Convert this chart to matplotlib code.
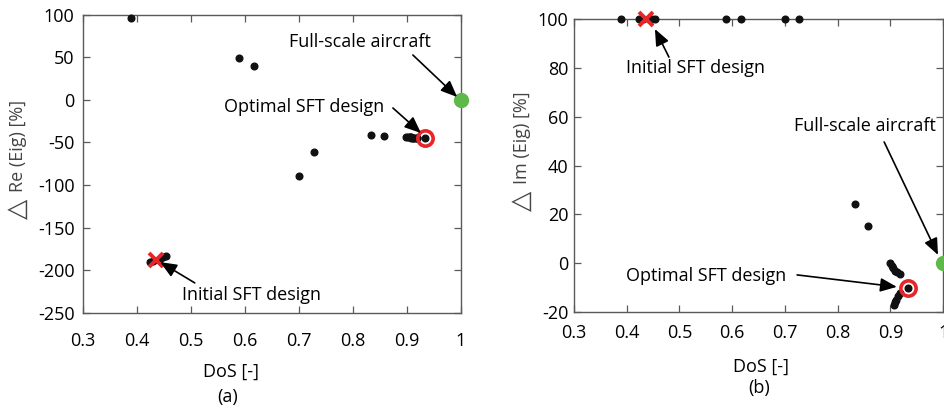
import matplotlib
matplotlib.use("Agg")
import matplotlib.pyplot as plt

plt.rcParams["font.family"] = ["Open Sans", "DejaVu Sans"]

# Degree of similarity of each candidate SFT design and its eigenvalue deviation
dos = [0.389, 0.424, 0.430, 0.442, 0.448, 0.454, 0.589, 0.617, 0.700, 0.727,
       0.833, 0.857, 0.899, 0.902, 0.905, 0.908, 0.912, 0.918,
       0.918, 0.914, 0.911, 0.908, 0.906, 0.934]
re_eig = [96.5, -191.0, -189.5, -186.5, -185.0, -183.5, 49.0, 40.0, -89.5, -61.3,
          -41.5, -42.5, -44.0, -44.0, -44.2, -44.4, -44.6, -44.8,
          -44.8, -44.6, -44.4, -44.2, -44.0, -45.0]
im_eig = [100.0, 100.0, 100.0, 100.0, 100.0, 100.0, 100.0, 100.0, 100.0, 100.0,
          24.1, 15.3, 0.0, -1.0, -2.0, -3.0, -3.8, -4.5,
          -12.3, -13.5, -15.0, -16.0, -17.2, -10.0]

initial_dos, initial_re, initial_im = [0.436], [-188.0], [100.0]
optimal_dos, optimal_re, optimal_im = [0.934], [-45.0], [-10.0]
full_dos, full_re, full_im = [1.0], [0.0], [0.0]

x_ticks = [0.3, 0.4, 0.5, 0.6, 0.7, 0.8, 0.9, 1.0]
x_tick_labels = ["0.3", "0.4", "0.5", "0.6", "0.7", "0.8", "0.9", "1"]
re_ticks = [-250, -200, -150, -100, -50, 0, 50, 100]
im_ticks = [-20, 0, 20, 40, 60, 80, 100]

FS = 13
SPINE = "#5a5a5a"
LABEL = "#444444"
RED = "#e8262a"
GREEN = "#5cb94a"

fig = plt.figure(figsize=(9.44, 4.11), dpi=100)
axA = fig.add_axes([0.0879, 0.2392, 0.4004, 0.7251])
axB = fig.add_axes([0.6080, 0.2409, 0.3912, 0.7122])


def style(ax, yticks, ylim):
    ax.set_xlim(0.3, 1.0)
    ax.set_ylim(*ylim)
    ax.set_xticks(x_ticks)
    ax.set_xticklabels(x_tick_labels)
    ax.set_yticks(yticks)
    ax.set_yticklabels([str(v) for v in yticks])
    ax.tick_params(direction="in", length=5, width=0.9, color=SPINE,
                   top=True, right=True, labelsize=FS, pad=6)
    ax.tick_params(axis="x", pad=14)
    for s in ax.spines.values():
        s.set_color(SPINE)
        s.set_linewidth(1.0)


def points(ax, yv, yi, yo, yf):
    ax.plot(dos, yv, "o", color="#111111", ms=4.8, ls="none", clip_on=False, zorder=3)
    ax.plot(full_dos, yf, "o", color=GREEN, ms=10, ls="none", clip_on=False, zorder=4)
    ax.plot(optimal_dos, yo, "o", mfc="none", mec=RED, mew=2.6, ms=11,
            ls="none", clip_on=False, zorder=4)
    ax.plot(initial_dos, yi, "x", color=RED, mew=2.8, ms=10, ls="none",
            clip_on=False, zorder=5)


def arrow(ax, tail, tip):
    ax.annotate("", xy=tip, xytext=tail,
                arrowprops=dict(arrowstyle="-|>,head_length=1.0,head_width=0.42",
                                color="black", lw=1.2, shrinkA=0, shrinkB=0),
                annotation_clip=False, zorder=6)


def ylabel(ax, text, x, y_text, y_tri):
    ax.text(x, y_text, text, transform=ax.transAxes, rotation=90, fontsize=FS,
            color=LABEL, ha="center", va="center", rotation_mode="anchor")
    ax.text(x, y_tri, "△", transform=ax.transAxes, rotation=90, fontsize=19,
            color=LABEL, ha="center", va="center", rotation_mode="anchor",
            family=["DejaVu Sans"])


# (a) real part
style(axA, re_ticks, (-250, 100))
points(axA, re_eig, initial_re, optimal_re, full_re)
axA.text(0.813, 67.9, "Full-scale aircraft", fontsize=FS, ha="center", va="center")
arrow(axA, (0.911, 52.6), (0.993, 3.3))
axA.text(0.710, -8.5, "Optimal SFT design", fontsize=FS, ha="center", va="center")
arrow(axA, (0.874, -9.6), (0.926, -39.0))
axA.text(0.612, -229.4, "Initial SFT design", fontsize=FS, ha="center", va="center")
arrow(axA, (0.507, -215.0), (0.443, -190.6))
ylabel(axA, "Re (Eig) [%]", -0.172, 0.558, 0.348)

# (b) imaginary part
style(axB, im_ticks, (-20, 100))
axB.tick_params(axis="y", pad=4)
axB.tick_params(axis="x", pad=9)
points(axB, im_eig, initial_im, optimal_im, full_im)
axB.text(0.531, 80.0, "Initial SFT design", fontsize=FS, ha="center", va="center")
arrow(axB, (0.480, 84.5), (0.4535, 96.0))
axB.text(0.852, 56.3, "Full-scale aircraft", fontsize=FS, ha="center", va="center")
arrow(axB, (0.888, 49.7), (0.990, 3.4))
axB.text(0.551, -5.2, "Optimal SFT design", fontsize=FS, ha="center", va="center")
arrow(axB, (0.723, -4.8), (0.912, -9.7))
ylabel(axB, "Im (Eig) [%]", -0.141, 0.596, 0.379)

# x labels and panel captions
fig.text(231 / 944, 1 - 372 / 411, "DoS [-]", fontsize=FS, ha="center", va="center")
fig.text(228 / 944, 1 - 397 / 411, "(a)", fontsize=FS, ha="center", va="center")
fig.text(761 / 944, 1 - 367 / 411, "DoS [-]", fontsize=FS, ha="center", va="center")
fig.text(759 / 944, 1 - 388 / 411, "(b)", fontsize=FS, ha="center", va="center")

fig.savefig("out.png", dpi=100)
